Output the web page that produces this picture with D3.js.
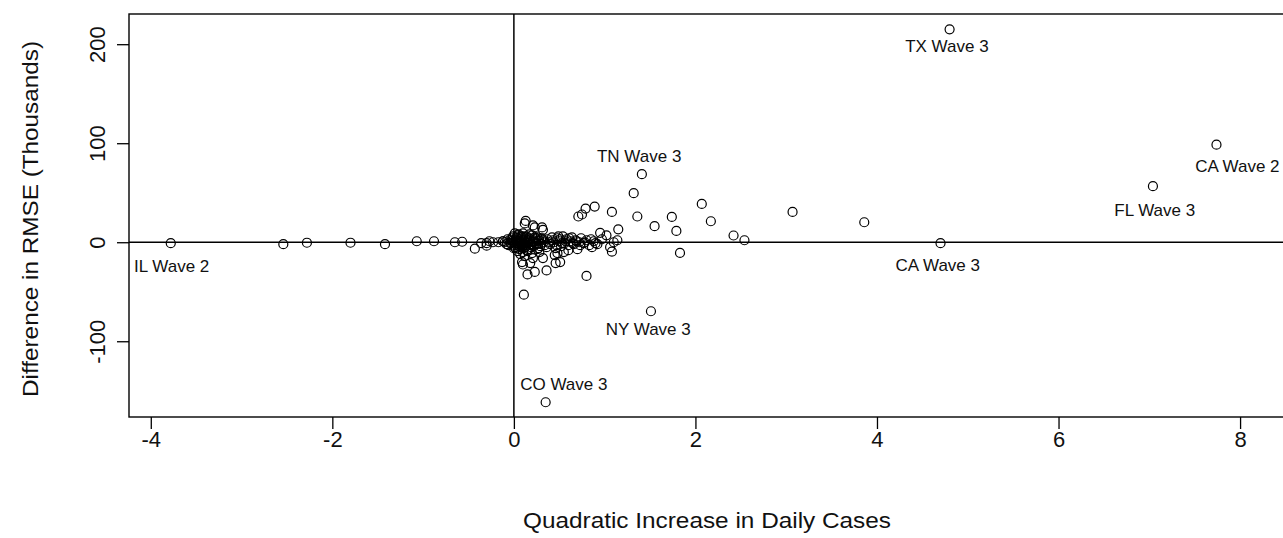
<!DOCTYPE html>
<html>
<head>
<meta charset="utf-8">
<script src="https://cdn.jsdelivr.net/npm/d3@7"></script>
<style>
  html, body { margin: 0; padding: 0; background: #fff; }
  svg { display: block; }
  text { font-family: "Liberation Sans", Arial, sans-serif; fill: #111; }
</style>
</head>
<body>
<svg id="chart" width="1283" height="538"></svg>
<script>
// ---- data ----
// x: Quadratic increase in daily cases; y: difference in RMSE (thousands)
const quadX = [
  -3.78, -2.54, -2.28, -1.80, -1.42, -1.07, -0.88, -0.65, -0.57, -0.43,
  -0.36, -0.30, -0.27, -0.23, -0.30, -0.17, -0.12,
  -0.12, -0.08, -0.05, -0.03, -0.02, 0.00, 0.01, 0.02, 0.03, 0.04,
  0.05, 0.06, 0.07, 0.08, 0.09, 0.10, 0.11, 0.12, 0.13, 0.14,
  0.15, 0.16, 0.17, 0.18, 0.19, 0.20, 0.21, 0.22, 0.24, 0.25,
  0.26, 0.27, 0.28, 0.30, 0.31, 0.33, 0.34, 0.12, 0.21, 0.31,
  0.10, 0.20, 0.28, 0.09, 0.18, 0.02, -0.01, 0.05, 0.15,
  -0.10, -0.07, -0.04, -0.01, 0.01, 0.03, 0.04, 0.06, 0.08, 0.09,
  0.11, 0.13, 0.14, 0.16, 0.18, 0.19, 0.22, 0.23, 0.25, 0.27,
  0.29, 0.32, 0.02, 0.06, 0.10, 0.14, 0.17, 0.07, 0.12, 0.04,
  -0.06, -0.02, 0.00, 0.03, 0.05, 0.08, 0.11, 0.15, 0.19, 0.24,
  0.26, 0.30, 0.01, 0.07, 0.13, 0.21,
  0.37, 0.40, 0.42, 0.44, 0.46, 0.48, 0.50, 0.52, 0.54, 0.56,
  0.58, 0.60, 0.62, 0.64, 0.66, 0.68, 0.70, 0.72, 0.74, 0.77,
  0.80, 0.83, 0.88, 0.92, 0.97, 1.02, 1.10, 0.45, 0.55, 0.60,
  0.39, 0.43, 0.47, 0.51, 0.53, 0.57, 0.61, 0.65, 0.69, 0.73,
  0.78, 0.85, 0.90, 0.36, 0.49,
  0.13, 0.23, 0.32, 0.10, 0.15, 0.23, 0.36, 0.11, 0.21, 0.32,
  0.46, 0.80, 0.71, 0.75, 0.79, 0.89, 1.08, 1.32, 1.36, 1.15,
  0.95, 1.08, 1.41, 2.07, 3.07, 1.74, 2.17, 1.55, 1.79, 2.42,
  2.54, 1.83, 1.14, 0.86, 0.48, 0.51, 1.06,
  4.80, 7.74, 7.04, 4.70, 3.86, 1.51, 0.35
];
const rmseDiff = [
  -1, -2, -0.5, -0.5, -2, 1, 1, 0, 0.5, -6.5,
  -1, -1, 1, 0, -3.5, 0, 1,
  1, -2, 2, -1, 4, 0, -3, 2, 5, -1,
  1, -4, 3, 0, -2, 6, 1, -5, 3, -1,
  2, -7, 4, 0, -3, 7, 1, -4, 3, -1,
  5, -6, 2, -2, 4, 0, -3, 19, 17, 15,
  -10, -11, -10, -20, -21, -6, 6, 8, -9,
  0, 3, -1, 2, -5, 1, 7, -2, 4, -6,
  2, -3, 6, -1, 3, -5, 0, 5, -2, 1,
  -4, 2, 3, -7, 9, -8, 8, -12, -14, -9,
  -3, 1, -6, 4, -2, 6, -4, 1, -2, 4,
  -7, 3, 9, -5, 5, 2,
  3, -2, 5, 0, -6, 4, 1, -4, 6, -1,
  3, -3, 1, 5, -2, 2, -7, 0, 4, -1,
  2, -3, 1, -2, 3, 7, 0, -13, -10, -8,
  0, 2, -3, 3, -1, 1, 4, -1, 1, -3,
  0, 3, -1, -5, 6,
  21.5, 15, 12.5, -22.5, -32.5, -30, -28.5, -53, -16, -16,
  -21, -34, 26, 28, 34, 36, 30.6, 49.5, 26, 13,
  9.5, -9.5, 68.7, 38.7, 30.6, 25.6, 21.2, 16.2, 11.4, 6.8,
  2, -10.8, 2, -5, -11, -20, -5,
  215, 98.5, 56.6, -1, 20.2, -69.7, -161.6
];

// annotated points: label text and where its centre sits (data units)
const labelText = ["TX Wave 3", "CA Wave 2", "FL Wave 3", "CA Wave 3", "NY Wave 3", "CO Wave 3", "TN Wave 3", "IL Wave 2"];
const labelX    = [4.77, 7.97, 7.06, 4.67, 1.48, 0.55, 1.38, -3.77];
const labelY    = [198, 76.8, 32.3, -23, -87.9, -143.4, 86.9, -24.2];

const xTicks = [-4, -2, 0, 2, 4, 6, 8];
const yTicks = [-100, 0, 100, 200];
const xTitle = "Quadratic Increase in Daily Cases";
const yTitle = "Difference in RMSE (Thousands)";

// ---- drawing ----
const svg = d3.select("#chart");
const plot = { left: 129, right: 1290, top: 14, bottom: 417 };

const x = d3.scaleLinear().domain([-4.24, 8.55]).range([plot.left, plot.right]);
const y = d3.scaleLinear().domain([-176.5, 230.5]).range([plot.bottom, plot.top]);
const fmt = d => String(d);

// reference lines at 0
svg.append("line")
  .attr("x1", plot.left).attr("x2", plot.right)
  .attr("y1", y(0)).attr("y2", y(0))
  .attr("stroke", "#000").attr("stroke-width", 1.5);
svg.append("line")
  .attr("x1", x(0)).attr("x2", x(0))
  .attr("y1", plot.top).attr("y2", plot.bottom)
  .attr("stroke", "#000").attr("stroke-width", 1.5);

// points
const pts = quadX.map((v, i) => ({ x: v, y: rmseDiff[i] }));
svg.append("g").selectAll("circle").data(pts).join("circle")
  .attr("cx", d => x(d.x)).attr("cy", d => y(d.y))
  .attr("r", 4.5)
  .attr("fill", "none").attr("stroke", "#000").attr("stroke-width", 1.2);

// axes
const xAxis = svg.append("g")
  .attr("transform", `translate(0,${plot.bottom})`)
  .call(d3.axisBottom(x).tickValues(xTicks).tickSize(12).tickPadding(2).tickFormat(fmt));
xAxis.select(".domain").remove();
xAxis.selectAll(".tick line").attr("stroke", "#000").attr("stroke-width", 1.3);
xAxis.selectAll(".tick text").attr("font-size", 22).attr("font-family", "Liberation Sans, Arial, sans-serif").attr("fill", "#111");

const yAxis = svg.append("g")
  .attr("transform", `translate(${plot.left},0)`)
  .call(d3.axisLeft(y).tickValues(yTicks).tickSize(12).tickFormat(fmt));
yAxis.select(".domain").remove();
yAxis.selectAll(".tick line").attr("stroke", "#000").attr("stroke-width", 1.3);
yAxis.selectAll(".tick text")
  .attr("x", null).attr("dy", null)
  .attr("transform", "translate(-32,0) rotate(-90)")
  .attr("text-anchor", "middle")
  .attr("dominant-baseline", "central")
  .attr("font-size", 22).attr("font-family", "Liberation Sans, Arial, sans-serif").attr("fill", "#111");

// frame
svg.append("rect")
  .attr("x", plot.left).attr("y", plot.top)
  .attr("width", plot.right - plot.left).attr("height", plot.bottom - plot.top)
  .attr("fill", "none").attr("stroke", "#000").attr("stroke-width", 1.4);

// titles
svg.append("text")
  .attr("x", 707).attr("y", 520)
  .attr("text-anchor", "middle").attr("dominant-baseline", "central")
  .attr("font-size", 22)
  .attr("textLength", 368).attr("lengthAdjust", "spacingAndGlyphs")
  .text(xTitle);
svg.append("text")
  .attr("transform", `translate(30,219) rotate(-90)`)
  .attr("text-anchor", "middle").attr("dominant-baseline", "central")
  .attr("font-size", 22)
  .attr("textLength", 356).attr("lengthAdjust", "spacingAndGlyphs")
  .text(yTitle);

// point labels
svg.append("g").selectAll("text").data(labelText).join("text")
  .attr("x", (d, i) => x(labelX[i])).attr("y", (d, i) => y(labelY[i]))
  .attr("text-anchor", "middle").attr("dominant-baseline", "central")
  .attr("font-size", 17)
  .text(d => d);
</script>
</body>
</html>
